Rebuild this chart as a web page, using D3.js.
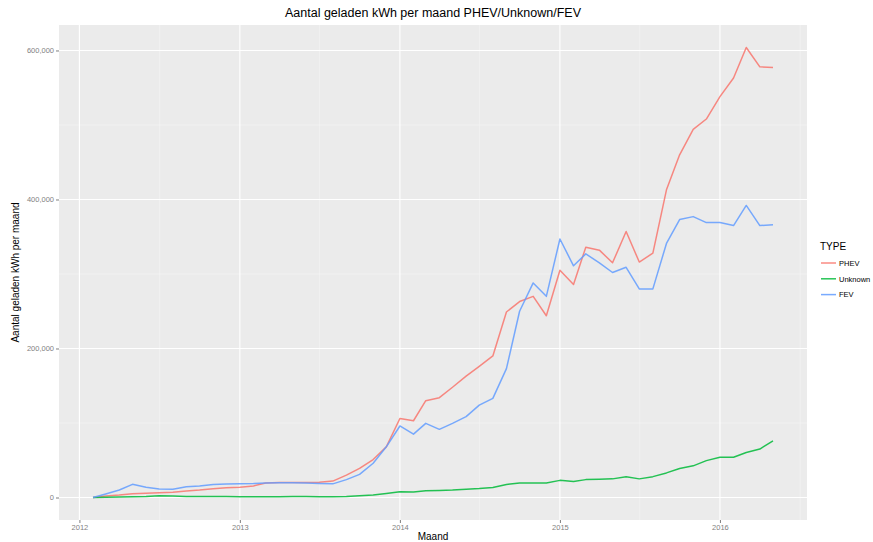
<!DOCTYPE html>
<html>
<head>
<meta charset="utf-8">
<script src="https://cdn.jsdelivr.net/npm/d3@7"></script>
<style>
  html, body { margin: 0; padding: 0; background: #ffffff; }
  svg { display: block; font-family: "Liberation Sans", Arial, Helvetica, sans-serif; }
</style>
</head>
<body>
<svg id="chart" width="873" height="542"></svg>
<script>
// ---- data ----
const months = [
  "2012-02","2012-03","2012-04","2012-05","2012-06","2012-07","2012-08","2012-09","2012-10","2012-11","2012-12",
  "2013-01","2013-02","2013-03","2013-04","2013-05","2013-06","2013-07","2013-08","2013-09","2013-10","2013-11","2013-12",
  "2014-01","2014-02","2014-03","2014-04","2014-05","2014-06","2014-07","2014-08","2014-09","2014-10","2014-11","2014-12",
  "2015-01","2015-02","2015-03","2015-04","2015-05","2015-06","2015-07","2015-08","2015-09","2015-10","2015-11","2015-12",
  "2016-01","2016-02","2016-03","2016-04","2016-05"
];
const phev = [
  0, 2000, 3300, 5000, 5600, 6500, 7000, 8700, 10000, 11800, 13200,
  13700, 15500, 19500, 20000, 20000, 20000, 20500, 22000, 30000, 39000, 51000, 68000,
  106000, 103000, 130000, 134000, 148000, 163000, 176000, 190000, 249000, 263000, 270000, 244000,
  305000, 286000, 336000, 332000, 315000, 357000, 316000, 328000, 413000, 460000, 494000, 508000,
  538000, 563000, 604000, 578000, 577000
];
const unknown = [
  0, 500, 800, 1000, 1500, 2500, 2000, 1500, 1500, 1200, 1200,
  1000, 1000, 1000, 1000, 1200, 1200, 1000, 1000, 1500, 2500, 3500, 5500,
  7800, 7500, 9000, 9500, 10000, 11000, 12000, 13500, 17500, 19500, 19500, 19500,
  23000, 21500, 24000, 24500, 25000, 28000, 25000, 28000, 33000, 39000, 42500, 49500,
  54000, 54000, 60500, 65000, 76000
];
const fev = [
  0, 4700, 10000, 17700, 13700, 11400, 11000, 14500, 15500, 17500, 18000,
  18300, 18700, 19500, 19900, 19900, 19500, 18800, 18300, 24000, 31000, 46000, 68000,
  96000, 85000, 99500, 91500, 99500, 108500, 124000, 133000, 173000, 250000, 288000, 270000,
  347000, 311000, 327000, 315000, 302000, 309000, 280000, 280000, 341000, 373000, 377000, 369000,
  369000, 365000, 392000, 365000, 366000
];
const seriesNames = ["PHEV", "Unknown", "FEV"];
const seriesColors = ["#F8766D", "#00BA38", "#619CFF"];
const yTicks = [0, 200000, 400000, 600000];
const yMinor = [100000, 300000, 500000];
const xTickYears = ["2012", "2013", "2014", "2015", "2016"];
const xMinorDates = ["2012-07-02", "2013-07-02", "2014-07-02", "2015-07-02", "2016-07-02"];
const titleText = "Aantal geladen kWh per maand PHEV/Unknown/FEV";
const xTitle = "Maand";
const yTitle = "Aantal geladen kWh per maand";
const legendTitle = "TYPE";

// ---- layout ----
const panel = { left: 59, right: 807, top: 25, bottom: 520 };
const parseMonth = d3.timeParse("%Y-%m");
const parseDay = d3.timeParse("%Y-%m-%d");
const dates = months.map(parseMonth);
const svg = d3.select("#chart");

const xExt = d3.extent(dates);
const xPad = (xExt[1] - xExt[0]) * 0.05;
const x = d3.scaleTime()
  .domain([new Date(+xExt[0] - xPad), new Date(+xExt[1] + xPad)])
  .range([panel.left, panel.right]);

const yMax = d3.max([...phev, ...unknown, ...fev]);
const yPad = yMax * 0.05;
const y = d3.scaleLinear().domain([-yPad, yMax + yPad]).range([panel.bottom, panel.top]);

// panel bg
svg.append("rect")
  .attr("x", panel.left).attr("y", panel.top)
  .attr("width", panel.right - panel.left).attr("height", panel.bottom - panel.top)
  .attr("fill", "#EBEBEB");

const grid = svg.append("g");
// minor grid
yMinor.forEach(v => grid.append("line")
  .attr("x1", panel.left).attr("x2", panel.right)
  .attr("y1", y(v)).attr("y2", y(v))
  .attr("stroke", "#F5F5F5").attr("stroke-width", 0.6));
xMinorDates.map(parseDay).filter(d => x(d) > panel.left && x(d) < panel.right).forEach(d => grid.append("line")
  .attr("y1", panel.top).attr("y2", panel.bottom)
  .attr("x1", x(d)).attr("x2", x(d))
  .attr("stroke", "#F5F5F5").attr("stroke-width", 0.6));
// major grid
yTicks.forEach(v => grid.append("line")
  .attr("x1", panel.left).attr("x2", panel.right)
  .attr("y1", y(v)).attr("y2", y(v))
  .attr("stroke", "#FFFFFF").attr("stroke-width", 1.1));
const yearDates = xTickYears.map(s => d3.timeParse("%Y")(s));
yearDates.forEach(d => grid.append("line")
  .attr("y1", panel.top).attr("y2", panel.bottom)
  .attr("x1", x(d)).attr("x2", x(d))
  .attr("stroke", "#FFFFFF").attr("stroke-width", 1.1));

// axes
const fmt = d3.format(",");
const yAxis = d3.axisLeft(y).tickValues(yTicks).tickFormat(fmt).tickSize(3).tickPadding(2);
const gy = svg.append("g").attr("transform", `translate(${panel.left},0)`).call(yAxis);
gy.select(".domain").remove();
gy.selectAll("line").attr("stroke", "#7F7F7F");
gy.selectAll("text").attr("fill", "#7F7F7F").style("font-size", "7.5px");

const xAxis = d3.axisBottom(x).tickValues(yearDates).tickFormat(d3.timeFormat("%Y")).tickSize(3).tickPadding(1.5);
const gx = svg.append("g").attr("transform", `translate(0,${panel.bottom})`).call(xAxis);
gx.select(".domain").remove();
gx.selectAll("line").attr("stroke", "#7F7F7F");
gx.selectAll("text").attr("fill", "#7F7F7F").style("font-size", "7.5px");

// lines
const allSeries = [phev, unknown, fev];
const line = d3.line().x((d, i) => x(dates[i])).y(d => y(d));
allSeries.forEach((vals, k) => {
  svg.append("path")
    .datum(vals)
    .attr("d", line)
    .attr("fill", "none")
    .attr("stroke", seriesColors[k])
    .attr("stroke-width", 1.5)
    .attr("stroke-opacity", 0.85)
    .attr("stroke-linejoin", "round");
});

// titles
svg.append("text")
  .attr("x", (panel.left + panel.right) / 2).attr("y", 17)
  .attr("text-anchor", "middle").attr("fill", "#000")
  .style("font-size", "12.5px").text(titleText);
svg.append("text")
  .attr("x", (panel.left + panel.right) / 2).attr("y", 540)
  .attr("text-anchor", "middle").attr("fill", "#000")
  .style("font-size", "10px").text(xTitle);
svg.append("text")
  .attr("transform", `translate(19,${(panel.top + panel.bottom) / 2}) rotate(-90)`)
  .attr("text-anchor", "middle").attr("fill", "#000")
  .style("font-size", "10px").text(yTitle);

// legend
const lg = svg.append("g");
lg.append("text").attr("x", 820).attr("y", 250).attr("fill", "#000")
  .style("font-size", "10px").text(legendTitle);
seriesNames.forEach((name, k) => {
  const cy = 263 + k * 15.8;
  lg.append("line").attr("x1", 821).attr("x2", 836).attr("y1", cy).attr("y2", cy)
    .attr("stroke", seriesColors[k]).attr("stroke-width", 1.5).attr("stroke-opacity", 0.85);
  lg.append("text").attr("x", 839).attr("y", cy + 2.7).attr("fill", "#000")
    .style("font-size", "7.5px").text(name);
});
</script>
</body>
</html>
